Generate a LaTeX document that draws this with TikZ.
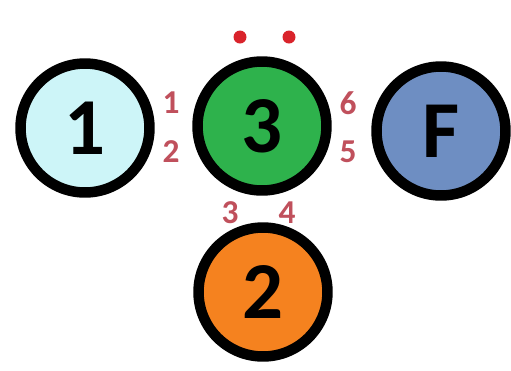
\documentclass[tikz,border=0pt]{standalone}
\usepackage{fontspec}
\setmainfont{Carlito}
\definecolor{iceblue}{HTML}{CDF5F8}
\definecolor{leafgreen}{HTML}{2EB24C}
\definecolor{steelblue}{HTML}{6E8EC2}
\definecolor{pumpkin}{HTML}{F5821F}
\definecolor{portred}{HTML}{C0505C}
\definecolor{dotred}{HTML}{D9232B}
\tikzset{
  ball/.style={circle,draw=black,line width=0.21cm,minimum size=2.58cm,inner sep=0pt,
    font=\fontsize{46}{46}\selectfont\bfseries},
  port/.style={font=\fontsize{19}{19}\selectfont\bfseries,text=portred,inner sep=0pt},
  pin/.style={circle,fill=dotred,minimum size=0.26cm,inner sep=0pt}
}
\begin{document}
\begin{tikzpicture}[x=0.02cm,y=-0.02cm]
  \useasboundingbox (0,0) rectangle (511,370);
  % balls
  \node[ball,fill=iceblue]   (one)   at (85,128)  {1};
  \node[ball,fill=leafgreen] (three) at (262,126) {3};
  \node[ball,fill=steelblue] (fin)   at (441,131) {F};
  \node[ball,fill=pumpkin]   (two)   at (263,292) {2};
  % ports round ball 3
  \node[port] (p1) at (171,103) {1};
  \node[port] (p2) at (171,152) {2};
  \node[port] (p3) at (230,213) {3};
  \node[port] (p4) at (287,213) {4};
  \node[port] (p5) at (348,152) {5};
  \node[port] (p6) at (348,103) {6};
  % dots on top
  \node[pin] (dl) at (240,37) {};
  \node[pin] (dr) at (289,37) {};
\end{tikzpicture}
\end{document}
